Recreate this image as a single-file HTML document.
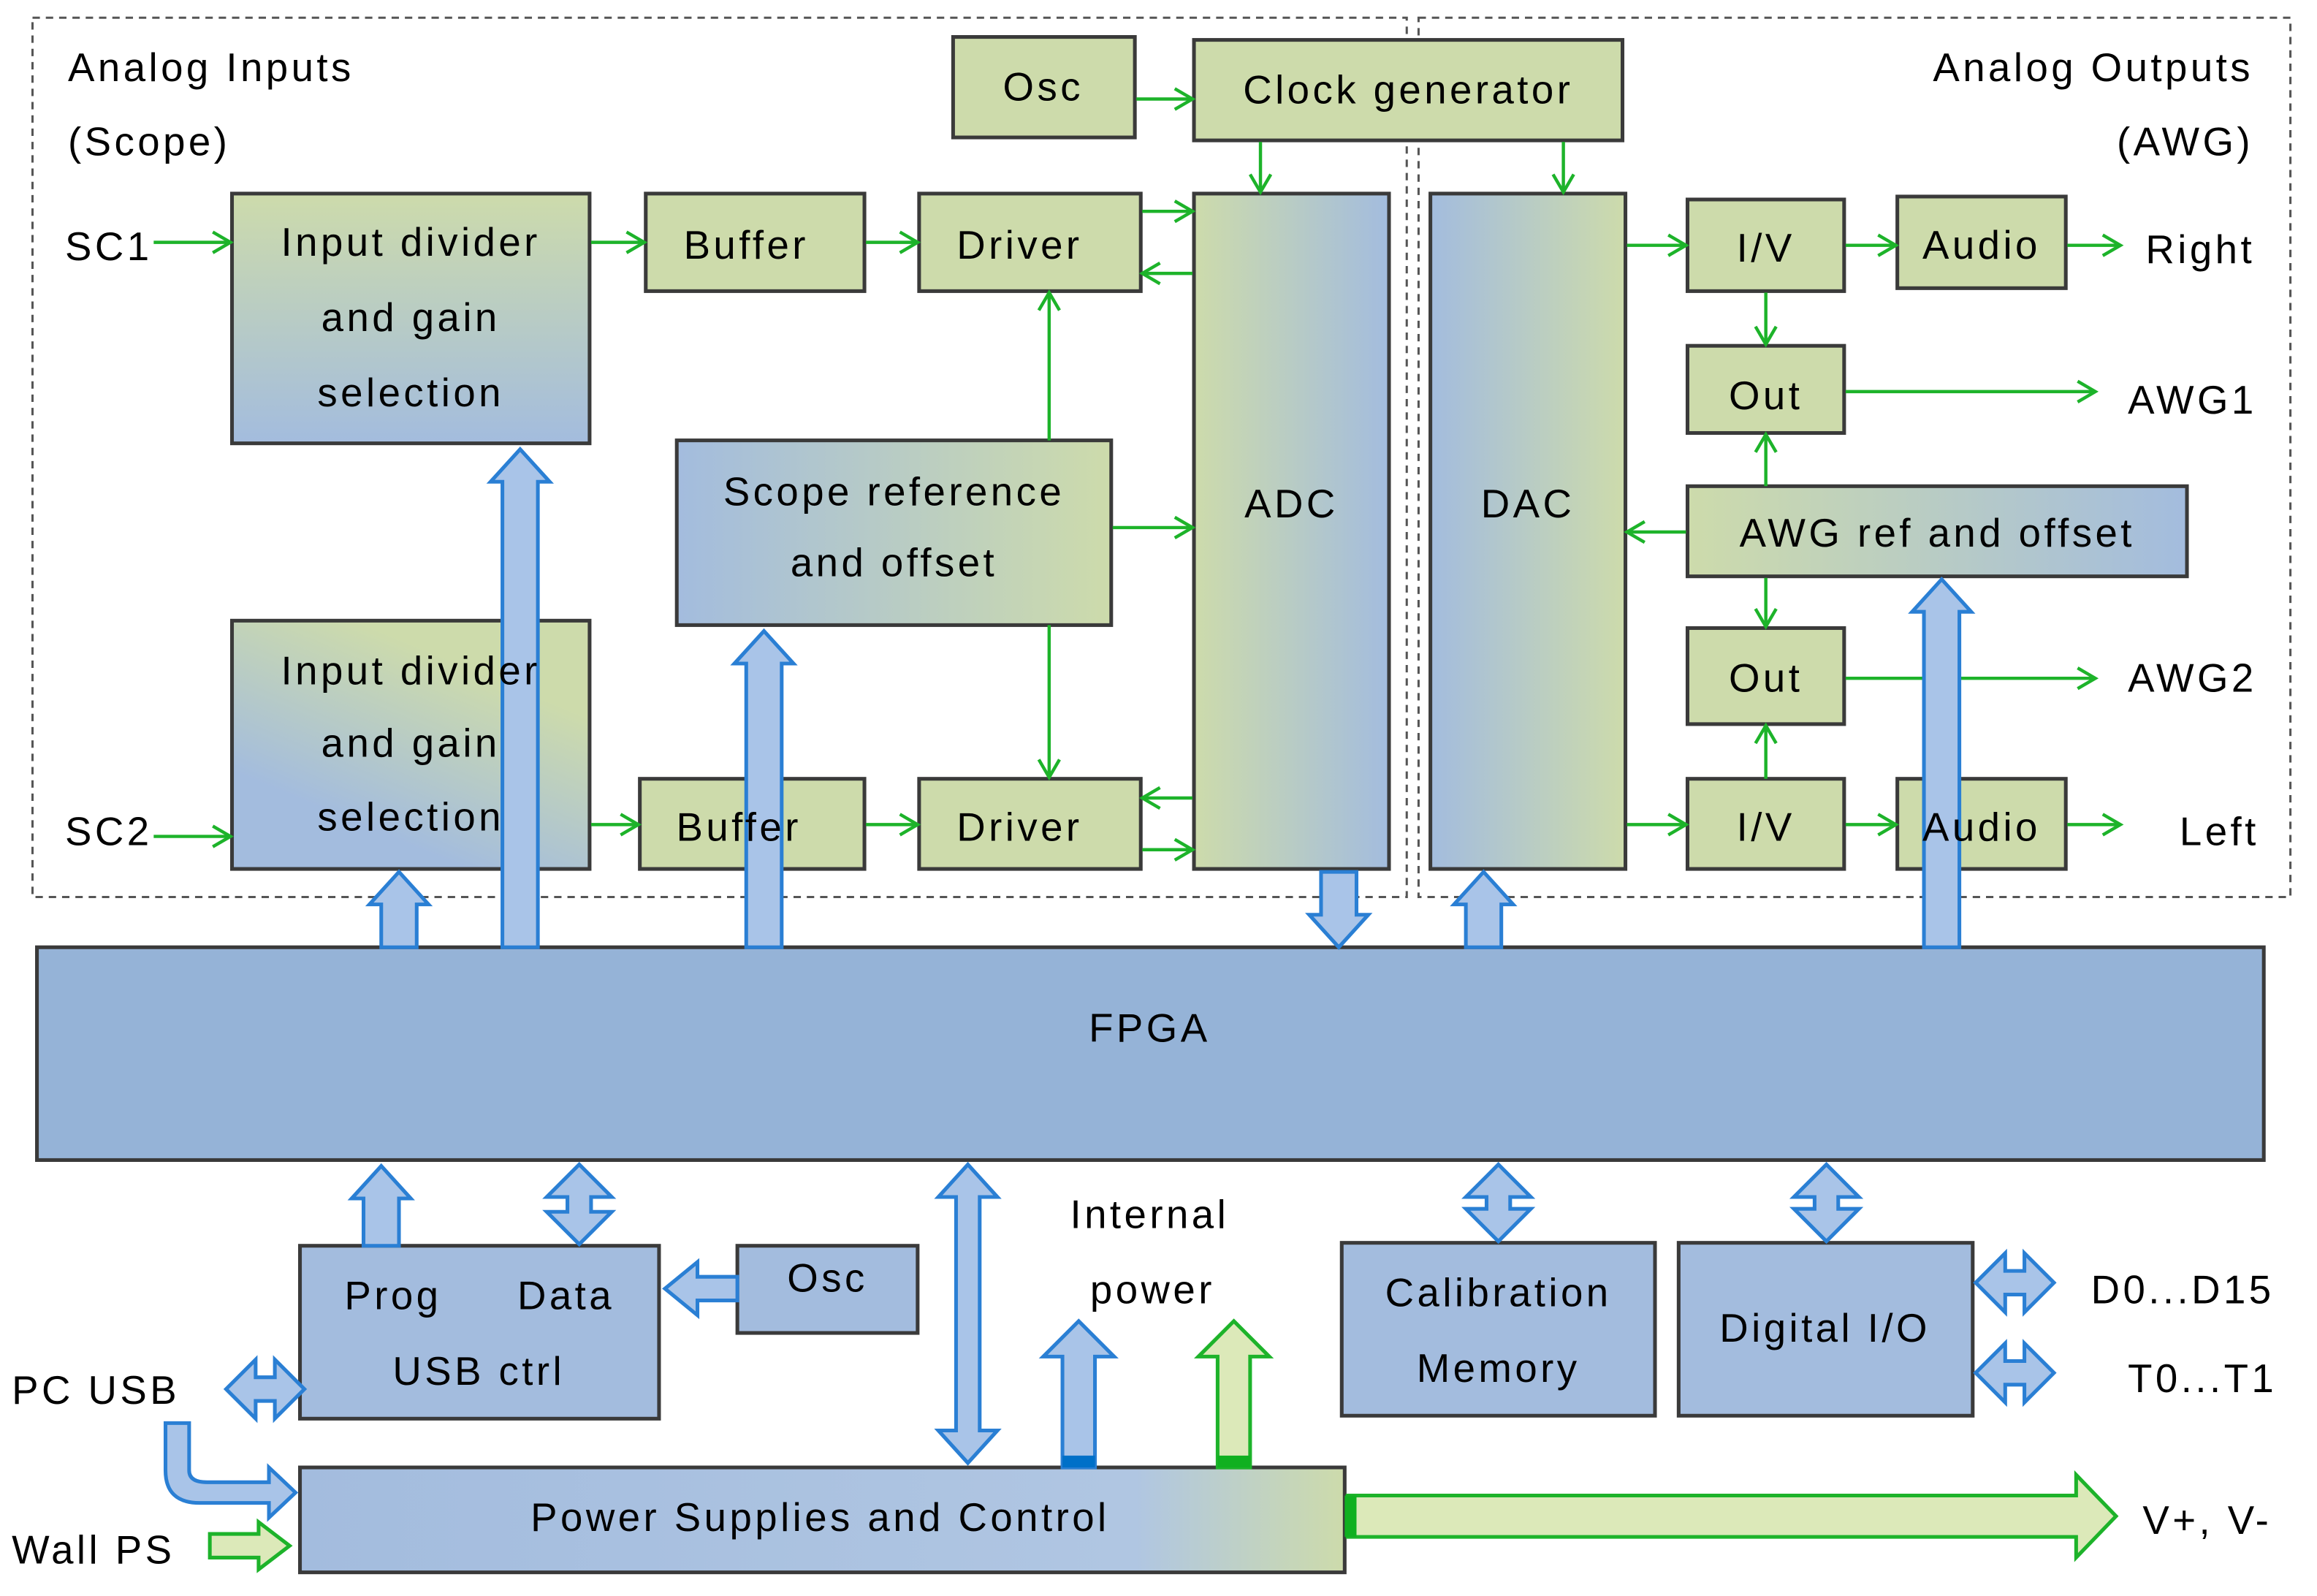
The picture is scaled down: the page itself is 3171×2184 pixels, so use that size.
<!DOCTYPE html>
<html><head><meta charset="utf-8"><style>
html,body{margin:0;padding:0;background:#fff;}
svg{display:block;}
text{font-family:"Liberation Sans",sans-serif;font-size:27px;letter-spacing:2.2px;fill:#000;}
</style></head><body>
<svg width="3171" height="2184" viewBox="0 0 1568 1080" preserveAspectRatio="none" xmlns="http://www.w3.org/2000/svg">
<defs>
<linearGradient id="gb" x1="0" y1="0" x2="1" y2="0"><stop offset="0" stop-color="#cddbab"/><stop offset="1" stop-color="#a3bcde"/></linearGradient>
<linearGradient id="bg" x1="0" y1="0" x2="1" y2="0"><stop offset="0" stop-color="#a3bcde"/><stop offset="1" stop-color="#cddbab"/></linearGradient>
<linearGradient id="tb" x1="0" y1="0" x2="0" y2="1"><stop offset="0" stop-color="#cddbab"/><stop offset="1" stop-color="#a3bcde"/></linearGradient>
<linearGradient id="dg" x1="0.2" y1="1" x2="0.8" y2="0"><stop offset="0.2" stop-color="#a3bcde"/><stop offset="0.8" stop-color="#cddbab"/></linearGradient>
<linearGradient id="bl" x1="0" y1="0" x2="1" y2="0"><stop offset="0" stop-color="#a3bcde"/><stop offset="0.8" stop-color="#b0c6e2"/><stop offset="1" stop-color="#cddbab"/></linearGradient>
<marker id="ah" markerWidth="20" markerHeight="20" refX="14" refY="8" orient="auto" markerUnits="userSpaceOnUse"><path d="M2,1 L14,8 L2,15" fill="none" stroke="#1db32a" stroke-width="2.2"/></marker>
</defs>
<g fill="none" stroke="#555" stroke-width="1.5" stroke-dasharray="5,4">
<rect x="22" y="12" width="930" height="595"/><rect x="960" y="12" width="590" height="595"/>
</g>
<g stroke="#3a3a3a" stroke-width="2.5">
<rect x="645" y="25" width="123" height="68" fill="#cddbab"/>
<rect x="808" y="27" width="290" height="68" fill="#cddbab"/>
<rect x="157" y="131" width="242" height="169" fill="url(#tb)"/>
<rect x="437" y="131" width="148" height="66" fill="#cddbab"/>
<rect x="622" y="131" width="150" height="66" fill="#cddbab"/>
<rect x="458" y="298" width="294" height="125" fill="url(#bg)"/>
<rect x="157" y="420" width="242" height="168" fill="url(#dg)"/>
<rect x="433" y="527" width="152" height="61" fill="#cddbab"/>
<rect x="622" y="527" width="150" height="61" fill="#cddbab"/>
<rect x="808" y="131" width="132" height="457" fill="url(#gb)"/>
<rect x="968" y="131" width="132" height="457" fill="url(#bg)"/>
<rect x="1142" y="135" width="106" height="62" fill="#cddbab"/>
<rect x="1284" y="133" width="114" height="62" fill="#cddbab"/>
<rect x="1142" y="234" width="106" height="59" fill="#cddbab"/>
<rect x="1142" y="329" width="338" height="61" fill="url(#gb)"/>
<rect x="1142" y="425" width="106" height="65" fill="#cddbab"/>
<rect x="1142" y="527" width="106" height="61" fill="#cddbab"/>
<rect x="1284" y="527" width="114" height="61" fill="#cddbab"/>
<rect x="25" y="641" width="1507" height="144" fill="#95b3d7"/>
<rect x="203" y="843" width="243" height="117" fill="#a3bcde"/>
<rect x="499" y="843" width="122" height="59" fill="#a3bcde"/>
<rect x="908" y="841" width="212" height="117" fill="#a3bcde"/>
<rect x="1136" y="841" width="199" height="117" fill="#a3bcde"/>
<rect x="203" y="993" width="707" height="71" fill="url(#bl)"/>
</g>
<g stroke="#1db32a" stroke-width="2.2" marker-end="url(#ah)" fill="none">
<line x1="104" y1="164" x2="156" y2="164"/><line x1="400" y1="164" x2="436" y2="164"/><line x1="586" y1="164" x2="621" y2="164"/>
<line x1="773" y1="143" x2="807" y2="143"/><line x1="807" y1="185" x2="773" y2="185"/>
<line x1="769" y1="67" x2="807" y2="67"/><line x1="853" y1="96" x2="853" y2="130"/><line x1="1058" y1="96" x2="1058" y2="130"/>
<line x1="710" y1="298" x2="710" y2="198"/><line x1="710" y1="423" x2="710" y2="526"/><line x1="753" y1="357" x2="807" y2="357"/>
<line x1="104" y1="566" x2="156" y2="566"/><line x1="400" y1="558" x2="432" y2="558"/><line x1="586" y1="558" x2="621" y2="558"/>
<line x1="807" y1="540" x2="773" y2="540"/><line x1="773" y1="575" x2="807" y2="575"/>
<line x1="1101" y1="166" x2="1141" y2="166"/><line x1="1249" y1="166" x2="1283" y2="166"/><line x1="1399" y1="166" x2="1435" y2="166"/>
<line x1="1195" y1="198" x2="1195" y2="233"/><line x1="1249" y1="265" x2="1418" y2="265"/>
<line x1="1195" y1="329" x2="1195" y2="294"/><line x1="1141" y1="360" x2="1101" y2="360"/><line x1="1195" y1="391" x2="1195" y2="424"/>
<line x1="1249" y1="459" x2="1418" y2="459"/><line x1="1195" y1="527" x2="1195" y2="491"/>
<line x1="1101" y1="558" x2="1141" y2="558"/><line x1="1249" y1="558" x2="1283" y2="558"/><line x1="1399" y1="558" x2="1435" y2="558"/>
</g>
<g fill="#a9c4e8" stroke="#2a7fd4" stroke-width="2.5" stroke-linejoin="miter">
<path d="M340,641 L340,326 L332,326 L352,304 L372,326 L364,326 L364,641 Z"/>
<path d="M258,641 L258,612 L250,612 L270,590 L290,612 L282,612 L282,641 Z"/>
<path d="M505,641 L505,449 L497,449 L517,427 L537,449 L529,449 L529,641 Z"/>
<path d="M894,590 L894,619 L886,619 L906,641 L926,619 L918,619 L918,590 Z"/>
<path d="M992,641 L992,612 L984,612 L1004,590 L1024,612 L1016,612 L1016,641 Z"/>
<path d="M1302,641 L1302,414 L1294,414 L1314,392 L1334,414 L1326,414 L1326,641 Z"/>
<path d="M246,843 L246,811 L238,811 L258,789 L278,811 L270,811 L270,843 Z"/>
<path d="M384,810 L370,810 L392,788 L414,810 L400,810 L400,820 L414,820 L392,842 L370,820 L384,820 Z"/>
<path d="M647,810 L635,810 L655,788 L675,810 L663,810 L663,968 L675,968 L655,990 L635,968 L647,968 Z"/>
<path d="M1006,810 L992,810 L1014,788 L1036,810 L1022,810 L1022,818 L1036,818 L1014,840 L992,818 L1006,818 Z"/>
<path d="M1228,810 L1214,810 L1236,788 L1258,810 L1244,810 L1244,818 L1258,818 L1236,840 L1214,818 L1228,818 Z"/>
<path d="M499,864 L472,864 L472,854 L450,872 L472,890 L472,880 L499,880 Z"/>
<path d="M173,932 L173,920 L153,940 L173,960 L173,948 L186,948 L186,960 L206,940 L186,920 L186,932 Z"/>
<path d="M1357,860 L1357,848 L1337,868 L1357,888 L1357,876 L1370,876 L1370,888 L1390,868 L1370,848 L1370,860 Z"/>
<path d="M1357,921 L1357,909 L1337,929 L1357,949 L1357,937 L1370,937 L1370,949 L1390,929 L1370,909 L1370,921 Z"/>
<path d="M719,993 L719,918 L706,918 L730,894 L754,918 L741,918 L741,993 Z"/>
<path d="M112,963 L128,963 L128,995 Q128,1003 140,1003 L182,1003 L182,993 L200,1010 L182,1027 L182,1017 L135,1017 Q112,1017 112,995 Z"/>
</g>
<rect x="719" y="985" width="22" height="8" fill="#0070c8"/>
<g fill="#dce9b9" stroke="#1db32a" stroke-width="2.5">
<path d="M824,993 L824,918 L811,918 L835,894 L859,918 L846,918 L846,993 Z"/>
<path d="M912,1012 L1405,1012 L1405,998 L1432,1026 L1405,1054 L1405,1040 L912,1040 Z"/>
<path d="M142,1038 L175,1038 L175,1030 L196,1046 L175,1062 L175,1054 L142,1054 Z"/>
</g>
<rect x="824" y="985" width="22" height="8" fill="#10b020"/>
<rect x="910" y="1012" width="8" height="28" fill="#10b020"/>
<text x="46" y="55">Analog Inputs</text><text x="46" y="105">(Scope)</text>
<text x="1525" y="55" text-anchor="end">Analog Outputs</text><text x="1525" y="105" text-anchor="end">(AWG)</text>
<text x="706" y="68" text-anchor="middle">Osc</text>
<text x="953" y="70" text-anchor="middle">Clock generator</text>
<text x="44" y="176">SC1</text><text x="44" y="572">SC2</text>
<g text-anchor="middle">
<text x="278" y="173">Input divider</text><text x="278" y="224">and gain</text><text x="278" y="275">selection</text>
<text x="505" y="175">Buffer</text><text x="690" y="175">Driver</text>
<text x="605" y="342">Scope reference</text><text x="605" y="390">and offset</text>
<text x="278" y="463">Input divider</text><text x="278" y="512">and gain</text><text x="278" y="562">selection</text>
<text x="500" y="569">Buffer</text><text x="690" y="569">Driver</text>
<text x="874" y="350">ADC</text><text x="1034" y="350">DAC</text>
<text x="1195" y="177">I/V</text><text x="1341" y="175">Audio</text>
<text x="1195" y="277">Out</text><text x="1311" y="370">AWG ref and offset</text>
<text x="1195" y="468">Out</text><text x="1195" y="569">I/V</text><text x="1341" y="569">Audio</text>
<text x="778" y="705">FPGA</text>
<text x="266" y="886">Prog</text><text x="383" y="886">Data</text><text x="324" y="937">USB ctrl</text>
<text x="560" y="874">Osc</text>
<text x="778" y="831">Internal</text><text x="780" y="882">power</text>
<text x="1014" y="884">Calibration</text><text x="1014" y="935">Memory</text>
<text x="1235" y="908">Digital I/O</text>
<text x="555" y="1036">Power Supplies and Control</text>
</g>
<text x="1452" y="178">Right</text><text x="1440" y="280">AWG1</text><text x="1440" y="468">AWG2</text><text x="1475" y="572">Left</text>
<text x="1415" y="882">D0...D15</text><text x="1440" y="942">T0...T1</text>
<text x="8" y="950">PC USB</text><text x="8" y="1058">Wall PS</text><text x="1450" y="1038">V+, V-</text>
</svg>
</body></html>
